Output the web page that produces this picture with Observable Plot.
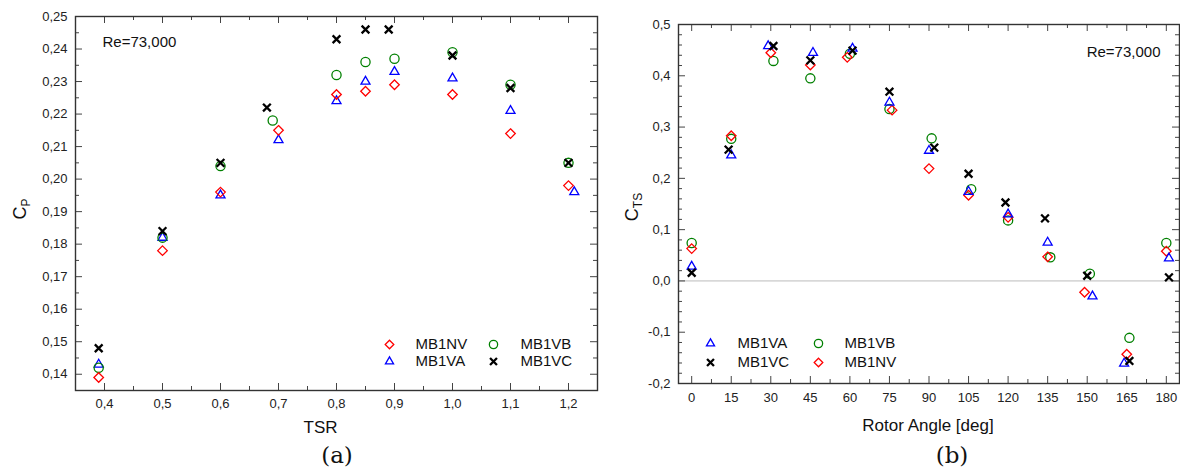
<!DOCTYPE html>
<html><head><meta charset="utf-8">
<script src="https://cdn.jsdelivr.net/npm/d3@7"></script>
<script src="https://cdn.jsdelivr.net/npm/@observablehq/plot@0.6"></script>
<style>
body{margin:0;background:#fff;}
#wrap{position:relative;width:1180px;height:473px;background:#fff;font-family:"Liberation Sans",Arial,sans-serif;overflow:hidden;}
#pa{position:absolute;left:0;top:0;}
#pb{position:absolute;left:600px;top:0;}
.cap{position:absolute;font-family:"DejaVu Serif",serif;font-size:23px;color:#111;transform:translate(-50%,-50%);white-space:nowrap;}
</style></head><body>
<div id="wrap"><div id="pa"></div><div id="pb"></div>
<div class="cap" style="left:337px;top:455px">(a)</div>
<div class="cap" style="left:952px;top:455px">(b)</div></div>
<script>
// ---------- Panel (a): Cp vs TSR ----------
const tsrNV = [0.39, 0.5, 0.6, 0.7, 0.8, 0.85, 0.9, 1.0, 1.1, 1.2];
const cpNV  = [0.139, 0.178, 0.196, 0.215, 0.226, 0.227, 0.229, 0.226, 0.214, 0.198];
const tsrVA = [0.39, 0.5, 0.6, 0.7, 0.8, 0.85, 0.9, 1.0, 1.1, 1.21];
const cpVA  = [0.143, 0.182, 0.195, 0.212, 0.224, 0.230, 0.233, 0.231, 0.221, 0.196];
const tsrVB = [0.39, 0.5, 0.6, 0.69, 0.8, 0.85, 0.9, 1.0, 1.1, 1.2];
const cpVB  = [0.142, 0.182, 0.204, 0.218, 0.232, 0.236, 0.237, 0.239, 0.229, 0.205];
const tsrVC = [0.39, 0.5, 0.6, 0.68, 0.8, 0.85, 0.89, 1.0, 1.1, 1.2];
const cpVC  = [0.148, 0.184, 0.205, 0.222, 0.243, 0.246, 0.246, 0.238, 0.228, 0.205];

const tsrMajor = [0.4, 0.5, 0.6, 0.7, 0.8, 0.9, 1.0, 1.1, 1.2];
const tsrMinor = [0.35, 0.45, 0.55, 0.65, 0.75, 0.85, 0.95, 1.05, 1.15, 1.25];
const cpMajor = [0.14, 0.15, 0.16, 0.17, 0.18, 0.19, 0.20, 0.21, 0.22, 0.23, 0.24, 0.25];
const cpMinor = [0.135, 0.145, 0.155, 0.165, 0.175, 0.185, 0.195, 0.205, 0.215, 0.225, 0.235, 0.245];

// ---------- Panel (b): Cts vs rotor angle ----------
const angNV = [0, 15, 30, 45, 59, 76, 90, 105, 120, 135, 149, 165, 180];
const ctsNV = [0.063, 0.283, 0.445, 0.421, 0.436, 0.333, 0.219, 0.167, 0.124, 0.047, -0.022, -0.143, 0.058];
const angVA = [0, 15, 29, 46, 61, 75, 90, 105, 120, 135, 152, 164, 181];
const ctsVA = [0.028, 0.245, 0.458, 0.445, 0.453, 0.348, 0.254, 0.174, 0.130, 0.075, -0.030, -0.161, 0.044];
const angVB = [0, 15, 31, 45, 60, 75, 91, 106, 120, 136, 151, 166, 180];
const ctsVB = [0.074, 0.277, 0.429, 0.395, 0.443, 0.335, 0.278, 0.179, 0.118, 0.046, 0.014, -0.111, 0.074];
const angVC = [0, 14, 31, 45, 61, 75, 92, 105, 119, 134, 150, 166, 181];
const ctsVC = [0.016, 0.256, 0.458, 0.430, 0.449, 0.369, 0.260, 0.209, 0.153, 0.122, 0.010, -0.156, 0.007];

const angMajor = [0, 15, 30, 45, 60, 75, 90, 105, 120, 135, 150, 165, 180];
const angMinor = [7.5, 22.5, 37.5, 52.5, 67.5, 82.5, 97.5, 112.5, 127.5, 142.5, 157.5, 172.5];
const ctsMajor = [-0.2, -0.1, 0.0, 0.1, 0.2, 0.3, 0.4, 0.5];
const ctsMinor = [-0.18, -0.16, -0.14, -0.12, -0.08, -0.06, -0.04, -0.02, 0.02, 0.04, 0.06, 0.08,
  0.12, 0.14, 0.16, 0.18, 0.22, 0.24, 0.26, 0.28, 0.32, 0.34, 0.36, 0.38, 0.42, 0.44, 0.46, 0.48];

const seriesNames = ["MB1NV", "MB1VA", "MB1VB", "MB1VC"];
const reText = "Re=73,000";

// styles (not data)
const sty = {
  MB1NV: {symbol: "diamond2", stroke: "#ff0000", r: 4.3, strokeWidth: 1.3},
  MB1VA: {symbol: "triangle2", stroke: "#0000ff", r: 4.3, strokeWidth: 1.3},
  MB1VB: {symbol: "circle", stroke: "#008000", r: 4.6, strokeWidth: 1.3},
  MB1VC: {symbol: "times", stroke: "#000000", r: 3.6, strokeWidth: 2.3}
};

const rows = (xs, ys) => xs.map((x, i) => ({x, y: ys[i]}));
const seriesA = {MB1NV: rows(tsrNV, cpNV), MB1VA: rows(tsrVA, cpVA), MB1VB: rows(tsrVB, cpVB), MB1VC: rows(tsrVC, cpVC)};
const seriesB = {MB1NV: rows(angNV, ctsNV), MB1VA: rows(angVA, ctsVA), MB1VB: rows(angVB, ctsVB), MB1VC: rows(angVC, ctsVC)};

function frameTicks(xMaj, xMin, yMaj, yMin, iw, ih) {
  const c = {stroke: "#444", strokeWidth: 1};
  const L = 7, l = 4;
  return [
    Plot.tickX(xMaj, {x: d => d, insetTop: ih - L, ...c}),
    Plot.tickX(xMaj, {x: d => d, insetBottom: ih - L, ...c}),
    Plot.tickX(xMin, {x: d => d, insetTop: ih - l, ...c}),
    Plot.tickX(xMin, {x: d => d, insetBottom: ih - l, ...c}),
    Plot.tickY(yMaj, {y: d => d, insetRight: iw - L, ...c}),
    Plot.tickY(yMaj, {y: d => d, insetLeft: iw - L, ...c}),
    Plot.tickY(yMin, {y: d => d, insetRight: iw - l, ...c}),
    Plot.tickY(yMin, {y: d => d, insetLeft: iw - l, ...c})
  ];
}

function dots(series, order) {
  return order.map(n => Plot.dot(series[n], {x: "x", y: "y", fill: "none", ...sty[n]}));
}

function legend(entries, anchor) {
  const out = [];
  for (const e of entries) {
    const s = sty[e.name];
    out.push(Plot.dot([e.name], {frameAnchor: anchor, dx: e.dx, dy: e.dy, fill: "none", ...s, r: s.r * 0.9}));
    out.push(Plot.text([e.name], {text: d => d, frameAnchor: anchor, lineAnchor: "middle", dx: e.tdx, dy: e.dy, textAnchor: "start", fontSize: 15, fill: "#111"}));
  }
  return out;
}

function yTitle(svg, x, y, main, sub) {
  const t = d3.select(svg).append("text")
    .attr("transform", `translate(${x},${y}) rotate(-90)`)
    .attr("text-anchor", "middle")
    .attr("fill", "#111")
    .style("font-family", "'Liberation Sans', Arial, sans-serif")
    .style("font-size", "18px");
  t.append("tspan").text(main);
  t.append("tspan").attr("dy", "0.35em").style("font-size", "12px").text(sub);
}

// ----- build (a)
const WA = 600, HA = 445, mA = {t: 16, r: 3, b: 55, l: 75};
const plotA = Plot.plot({
  width: WA, height: HA,
  marginTop: mA.t, marginRight: mA.r, marginBottom: mA.b, marginLeft: mA.l,
  style: {fontFamily: "'Liberation Sans', Arial, sans-serif", fontSize: "13px", background: "transparent", color: "#222"},
  x: {domain: [0.35, 1.25], label: null},
  y: {domain: [0.135, 0.25], label: null},
  marks: [
    Plot.axisX({ticks: tsrMajor, tickSize: 0, tickPadding: 8, tickFormat: d => d.toFixed(1).replace(".", ","), fontSize: 13}),
    Plot.axisY({ticks: cpMajor, tickSize: 0, tickPadding: 8, tickFormat: d => d.toFixed(2).replace(".", ","), fontSize: 13}),
    ...frameTicks(tsrMajor, tsrMinor, cpMajor, cpMinor, WA - mA.l - mA.r, HA - mA.t - mA.b),
    Plot.frame({stroke: "#333", strokeWidth: 1.4}),
    ...dots(seriesA, ["MB1VA", "MB1VB", "MB1NV", "MB1VC"]),
    Plot.text([reText], {text: d => d, frameAnchor: "top-left", lineAnchor: "middle", dx: 27, dy: 26, textAnchor: "start", fontSize: 15, fill: "#111"}),
    Plot.text(["TSR"], {text: d => d, frameAnchor: "bottom", lineAnchor: "middle", dx: -16, dy: 37, fontSize: 17, fill: "#111"}),
    ...legend([
      {name: "MB1NV", dx: -208, tdx: -182, dy: -46},
      {name: "MB1VB", dx: -104, tdx: -77, dy: -46},
      {name: "MB1VA", dx: -208, tdx: -182, dy: -29},
      {name: "MB1VC", dx: -104, tdx: -77, dy: -29}
    ], "bottom-right")
  ]
});
document.getElementById("pa").appendChild(plotA);
yTitle(plotA, 26, 209, "C", "P");

// ----- build (b)
const WB = 580, HB = 445, mB = {t: 24, r: 1, b: 62, l: 78};
const plotB = Plot.plot({
  width: WB, height: HB,
  marginTop: mB.t, marginRight: mB.r, marginBottom: mB.b, marginLeft: mB.l,
  style: {fontFamily: "'Liberation Sans', Arial, sans-serif", fontSize: "13px", background: "transparent", color: "#222"},
  x: {domain: [-5, 185], label: null},
  y: {domain: [-0.2, 0.5], label: null},
  marks: [
    Plot.axisX({ticks: angMajor, tickSize: 0, tickPadding: 9, tickFormat: d => String(d), fontSize: 13}),
    Plot.axisY({ticks: ctsMajor, tickSize: 0, tickPadding: 8, tickFormat: d => d.toFixed(1).replace(".", ","), fontSize: 13}),
    Plot.ruleY([0], {stroke: "#bbb", strokeWidth: 1}),
    ...frameTicks(angMajor, angMinor, ctsMajor, ctsMinor, WB - mB.l - mB.r, HB - mB.t - mB.b),
    Plot.frame({stroke: "#333", strokeWidth: 1.4}),
    ...dots(seriesB, ["MB1VB", "MB1NV", "MB1VA", "MB1VC"]),
    Plot.text([reText], {text: d => d, frameAnchor: "top-right", lineAnchor: "middle", dx: -19, dy: 28, textAnchor: "end", fontSize: 15, fill: "#111"}),
    Plot.text(["Rotor Angle [deg]"], {text: d => d, frameAnchor: "bottom", lineAnchor: "middle", dx: -1, dy: 42, fontSize: 17, fill: "#111"}),
    ...legend([
      {name: "MB1VA", dx: 32, tdx: 59, dy: -40},
      {name: "MB1VB", dx: 140, tdx: 166, dy: -40},
      {name: "MB1VC", dx: 32, tdx: 59, dy: -21},
      {name: "MB1NV", dx: 140, tdx: 166, dy: -21}
    ], "bottom-left")
  ]
});
document.getElementById("pb").appendChild(plotB);
yTitle(plotB, 38, 207, "C", "TS");
</script>
</body></html>
